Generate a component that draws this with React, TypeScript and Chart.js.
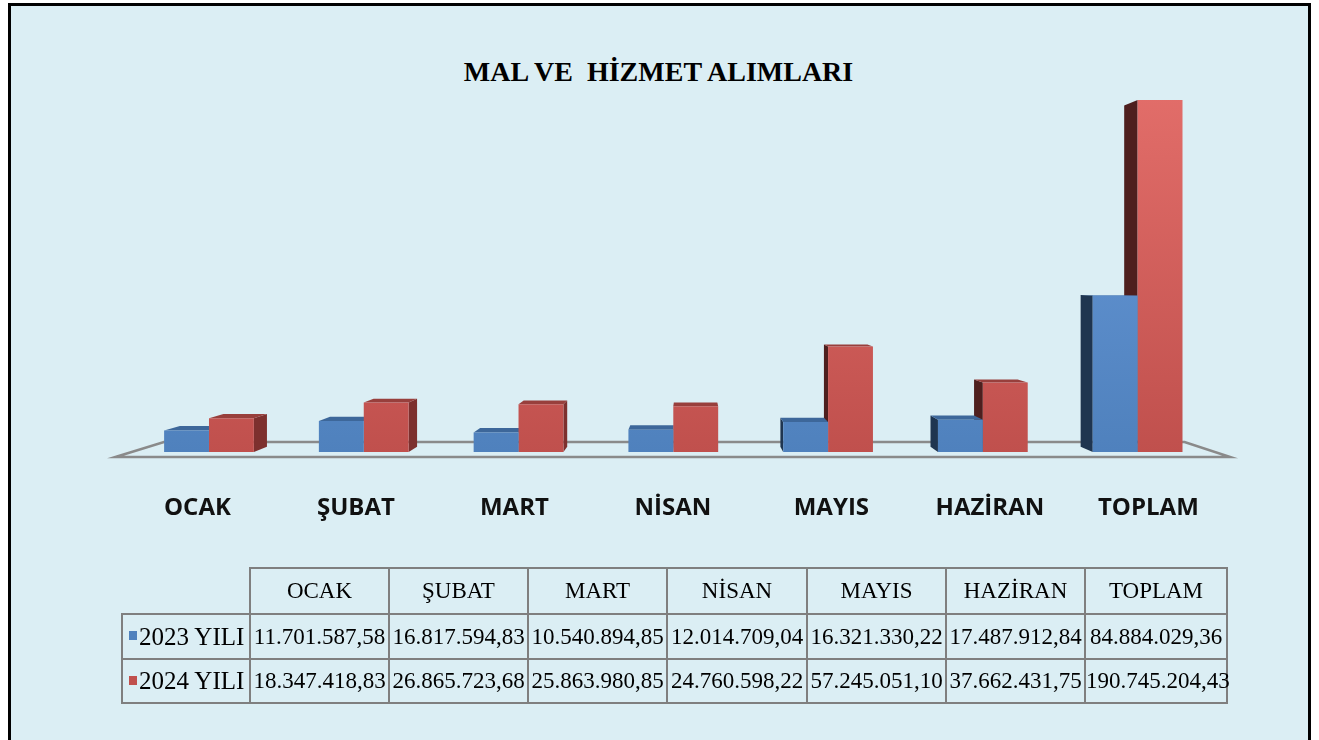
import React, { useEffect, useRef } from 'react';
import { Chart, registerables } from 'chart.js';
Chart.register(...registerables);

const TITLE = 'MAL VE  HİZMET ALIMLARI';
const categories = ['OCAK', 'ŞUBAT', 'MART', 'NİSAN', 'MAYIS', 'HAZİRAN', 'TOPLAM'];
const seriesNames = ['2023 YILI', '2024 YILI'];
const values2023 = [11701587.58, 16817594.83, 10540894.85, 12014709.04, 16321330.22, 17487912.84, 84884029.36];
const values2024 = [18347418.83, 26865723.68, 25863980.85, 24760598.22, 57245051.1, 37662431.75, 190745204.43];
const yMin = 0;
const yMax = 200000000;

const BG = '#DBEEF4';
const VPX = 690;
const VPY = 280;
const K_BAR = 0.03;
const K_FLOOR_FRONT = -0.029;
const K_FLOOR_BACK = 0.058;

const COLORS = [
  { top: '#6A9BDB', bottom: '#4F81BD', side: '#2E5079', sideDark: '#1F3550', cap: '#3D679A', key: '#4F81BD' },
  { top: '#E36E6A', bottom: '#C0504D', side: '#7D302E', sideDark: '#4E1F1E', cap: '#983F3C', key: '#C0504D' },
];

function fmt(v: number): string {
  const [i, d] = v.toFixed(2).split('.');
  return i.replace(/\B(?=(\d{3})+(?!\d))/g, '.') + ',' + d;
}

const grad = (c: { top: string; bottom: string }) => (ctx: any) => {
  const chart = ctx.chart;
  const a = chart.chartArea;
  if (!a) return c.bottom;
  const g = chart.ctx.createLinearGradient(0, a.top, 0, a.bottom);
  g.addColorStop(0, c.top);
  g.addColorStop(1, c.bottom);
  return g;
};

const T = (x: number, y: number, k: number): [number, number] => [x + (VPX - x) * k, y + (VPY - y) * k];

function poly(ctx: CanvasRenderingContext2D, pts: [number, number][], fill: string) {
  ctx.beginPath();
  ctx.moveTo(pts[0][0], pts[0][1]);
  for (let i = 1; i < pts.length; i++) ctx.lineTo(pts[i][0], pts[i][1]);
  ctx.closePath();
  ctx.fillStyle = fill;
  ctx.fill();
}

const threeD = {
  id: 'threeD',
  beforeDatasetsDraw(chart: any) {
    const { ctx, chartArea: a } = chart;
    ctx.save();
    // floor
    const fl = a.left;
    const fr = a.right;
    const p1 = T(fl, a.bottom, K_FLOOR_FRONT);
    const p2 = T(fl, a.bottom, K_FLOOR_BACK);
    const p3 = T(fr, a.bottom, K_FLOOR_BACK);
    const p4 = T(fr, a.bottom, K_FLOOR_FRONT);
    ctx.strokeStyle = '#8A8A8A';
    ctx.lineWidth = 2.5;
    ctx.lineJoin = 'miter';
    ctx.beginPath();
    ctx.moveTo(p1[0], p1[1]);
    ctx.lineTo(p2[0], p2[1]);
    ctx.lineTo(p3[0], p3[1]);
    ctx.lineTo(p4[0], p4[1]);
    ctx.closePath();
    ctx.stroke();
    // side / top faces
    for (let d = chart.data.datasets.length - 1; d >= 0; d--) {
      const meta = chart.getDatasetMeta(d);
      const c = COLORS[d];
      meta.data.forEach((el: any) => {
        const { x, y, base, width } = el.getProps(['x', 'y', 'base', 'width'], true);
        const x0 = x - width / 2;
        const x1 = x + width / 2;
        const top = y;
        const bottom = base;
        if (VPX > x1) {
          poly(ctx, [[x1, top], [x1, bottom], T(x1, bottom, K_BAR), T(x1, top, K_BAR)], c.side);
        } else if (VPX < x0) {
          poly(ctx, [[x0, top], [x0, bottom], T(x0, bottom, K_BAR), T(x0, top, K_BAR)], c.sideDark);
        }
        if (top > VPY) {
          poly(ctx, [[x0, top], [x1, top], T(x1, top, K_BAR), T(x0, top, K_BAR)], c.cap);
        }
      });
    }
    ctx.restore();
  },
  afterDatasetsDraw(chart: any) {
    const { ctx, chartArea: a, scales } = chart;
    ctx.save();
    ctx.font = 'bold 24px "Open Sans"';
    ctx.fillStyle = '#111';
    ctx.textAlign = 'center';
    ctx.textBaseline = 'middle';
    categories.forEach((cat, i) => {
      const x = scales.x.getPixelForValue(i);
      const lx = VPX + (x - VPX) * 1.024;
      ctx.fillText(cat, lx, a.bottom + 56.5);
    });
    ctx.restore();
  },
};

const colWidths = [128, 139, 139, 139, 140, 139, 139, 142];
const rowHeights = [46, 45, 44];
const cellBorder = '2px solid #7F7F7F';

export default function App() {
  const ref = useRef<HTMLCanvasElement>(null);
  useEffect(() => {
    if (!ref.current) return;
    const chart = new Chart(ref.current, {
      type: 'bar',
      data: {
        labels: categories,
        datasets: [
          { label: seriesNames[0], data: values2023, backgroundColor: grad(COLORS[0]) as any, borderWidth: 0, categoryPercentage: 0.58, barPercentage: 1 },
          { label: seriesNames[1], data: values2024, backgroundColor: grad(COLORS[1]) as any, borderWidth: 0, categoryPercentage: 0.58, barPercentage: 1 },
        ],
      },
      options: {
        responsive: false,
        animation: false,
        layout: { padding: { top: 83, left: 131.6, right: 104, bottom: 288 } },
        plugins: { legend: { display: false }, tooltip: { enabled: false }, title: { display: false } },
        scales: {
          x: { display: false },
          y: { display: false, min: yMin, max: yMax },
        },
      },
      plugins: [threeD],
    });
    return () => chart.destroy();
  }, []);

  const cellBase: React.CSSProperties = {
    border: cellBorder,
    padding: 0,
    whiteSpace: 'nowrap',
    textAlign: 'center',
    fontFamily: '"Liberation Serif", "Times New Roman", serif',
    fontSize: 23,
    color: '#000',
    overflow: 'visible',
  };
  const rows = [values2023, values2024];

  return (
    <div style={{ position: 'absolute', left: 0, top: 0, width: 1319, height: 740, overflow: 'hidden', background: '#fff' }}>
      <div
        style={{
          position: 'absolute',
          left: 8,
          top: 3,
          width: 1297,
          height: 800,
          background: BG,
          borderLeft: '3px solid #000',
          borderTop: '3px solid #000',
          borderRight: '3px solid #000',
        }}
      />
      <div
        style={{
          position: 'absolute',
          left: 0,
          top: 55,
          width: 1317,
          height: 34,
          lineHeight: '34px',
          textAlign: 'center',
          whiteSpace: 'pre',
          fontFamily: '"Liberation Serif", "Times New Roman", serif',
          fontWeight: 'bold',
          fontSize: 28,
          color: '#000',
        }}
      >
        {TITLE}
      </div>
      <canvas ref={ref} width={1319} height={740} style={{ position: 'absolute', left: 0, top: 0 }} />
      <table
        style={{
          position: 'absolute',
          left: 121,
          top: 567,
          borderCollapse: 'collapse',
          tableLayout: 'fixed',
          width: colWidths.reduce((s, w) => s + w, 0),
        }}
      >
        <colgroup>
          {colWidths.map((w, i) => (
            <col key={i} style={{ width: w }} />
          ))}
        </colgroup>
        <tbody>
          <tr style={{ height: rowHeights[0] }}>
            <td style={{ ...cellBase, borderTop: 'none', borderLeft: 'none' }}></td>
            {categories.map((c) => (
              <td key={c} style={cellBase}>{c}</td>
            ))}
          </tr>
          {rows.map((vals, r) => (
            <tr key={r} style={{ height: rowHeights[r + 1] }}>
              <td style={{ ...cellBase, textAlign: 'left', paddingLeft: 6, fontSize: 25 }}>
                <span
                  style={{
                    display: 'inline-block',
                    width: 8,
                    height: 9,
                    background: COLORS[r].key,
                    marginRight: 2,
                    verticalAlign: 'middle',
                    position: 'relative',
                    top: -3,
                  }}
                />
                {seriesNames[r]}
              </td>
              {vals.map((v, i) => (
                <td key={i} style={cellBase}>{fmt(v)}</td>
              ))}
            </tr>
          ))}
        </tbody>
      </table>
    </div>
  );
}
